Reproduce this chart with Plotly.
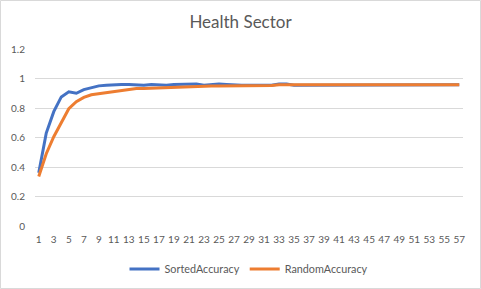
import plotly.graph_objects as go

categories = list(range(1, 58))
sorted_accuracy = [
    0.36, 0.63, 0.775, 0.875, 0.91, 0.90, 0.925, 0.94, 0.95, 0.955,
    0.96, 0.96, 0.96, 0.955, 0.955, 0.96, 0.955, 0.955, 0.96, 0.962,
    0.962, 0.962, 0.955, 0.96, 0.962, 0.96, 0.955, 0.955, 0.955, 0.955,
    0.955, 0.955, 0.962, 0.962, 0.954, 0.954, 0.954, 0.954, 0.954, 0.954,
    0.953, 0.952, 0.953, 0.953, 0.954, 0.957, 0.957, 0.957, 0.957, 0.957,
    0.957, 0.957, 0.957, 0.957, 0.957, 0.957, 0.957,
]
random_accuracy = [
    0.335, 0.49, 0.605, 0.705, 0.795, 0.843, 0.872, 0.89, 0.897, 0.905,
    0.912, 0.92, 0.93, 0.932, 0.933, 0.935, 0.94, 0.942, 0.943, 0.945,
    0.945, 0.947, 0.95, 0.95, 0.95, 0.95, 0.952, 0.952, 0.952, 0.952,
    0.952, 0.952, 0.958, 0.958, 0.958, 0.958, 0.958, 0.958, 0.958, 0.958,
    0.958, 0.958, 0.958, 0.958, 0.958, 0.958, 0.958, 0.958, 0.958, 0.958,
    0.958, 0.958, 0.958, 0.958, 0.958, 0.958, 0.958,
]
x_tick_labels = [str(c) for c in categories if c % 2 == 1]
y_ticks = [0, 0.2, 0.4, 0.6, 0.8, 1, 1.2]
y_tick_labels = ["0", "0.2", "0.4", "0.6", "0.8", "1", "1.2"]

W, H = 481, 289
L, R, T, B = 35, 18, 49, 63
pw, ph = W - L - R, H - T - B

fig = go.Figure()
fig.add_trace(go.Scatter(x=categories, y=sorted_accuracy, mode="lines",
                         name="SortedAccuracy",
                         line=dict(color="#4472C4", width=3)))
fig.add_trace(go.Scatter(x=categories, y=random_accuracy, mode="lines",
                         name="RandomAccuracy",
                         line=dict(color="#ED7D31", width=3)))

font_family = "Lato, Open Sans, sans-serif"
fig.update_layout(
    width=W, height=H,
    margin=dict(l=L, r=R, t=T, b=B, autoexpand=False),
    paper_bgcolor="white", plot_bgcolor="white",
    title=dict(text="Health Sector", x=0.5, xanchor="center",
               y=1 - 22 / H, yanchor="middle",
               font=dict(family=font_family, size=17, color="#595959")),
    font=dict(family=font_family, size=10, color="#595959"),
    xaxis=dict(range=[0.5, 57.5], tickmode="array",
               tickvals=[c for c in categories if c % 2 == 1],
               ticktext=x_tick_labels, showgrid=False, zeroline=False,
               showline=False, ticks="", tickangle=0,
               ticklabelstandoff=6,
               tickfont=dict(size=10, color="#595959")),
    yaxis=dict(range=[0, 1.2], tickmode="array", tickvals=y_ticks,
               ticktext=y_tick_labels, showgrid=True, gridcolor="#D9D9D9",
               gridwidth=1, zeroline=False, showline=False, ticks="",
               ticklabelstandoff=9,
               tickfont=dict(size=10, color="#595959")),
    legend=dict(orientation="h", x=0.5, xanchor="center",
                y=(226 - 269) / ph, yanchor="middle",
                font=dict(size=10.8, color="#595959"),
                itemwidth=30, tracegroupgap=0),
    showlegend=True,
    shapes=[dict(type="rect", xref="paper", yref="paper",
                 x0=(0.5 - L) / pw, x1=(W - 0.5 - L) / pw,
                 y0=(226 - (H - 0.5)) / ph, y1=(226 - 0.5) / ph,
                 line=dict(color="#D9D9D9", width=1), layer="below")],
)
fig.write_html("out.html",
               config={"displayModeBar": False},
               post_script="document.body.style.margin='0';"
                           "document.body.style.overflow='hidden';")
